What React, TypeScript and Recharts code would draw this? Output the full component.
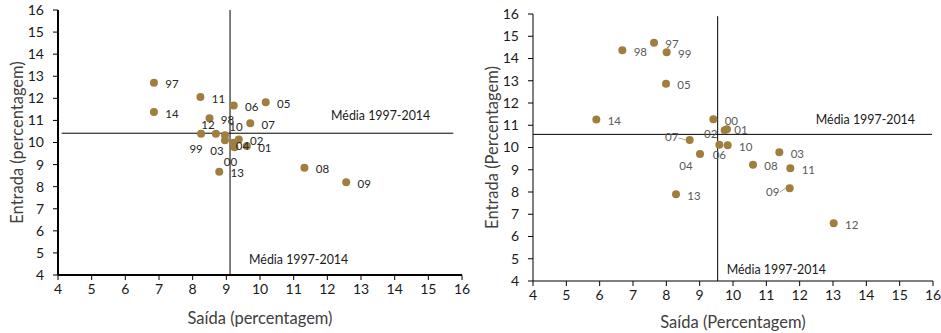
import React from 'react';
import { ScatterChart, Scatter, XAxis, YAxis, ReferenceLine } from 'recharts';

// anos 1997-2014
const YEARS = ['97', '98', '99', '00', '01', '02', '03', '04', '05', '06', '07', '08', '09', '10', '11', '12', '13', '14'];

// painel esquerdo
const SAIDA_A = [6.85, 8.5, 8.25, 9.24, 9.61, 9.37, 8.96, 9.21, 10.17, 9.22, 9.71, 11.32, 12.56, 8.96, 8.23, 8.69, 8.79, 6.85];
const ENTRADA_A = [12.71, 11.1, 10.4, 9.78, 9.84, 10.14, 10.1, 9.99, 11.82, 11.67, 10.87, 8.86, 8.2, 10.33, 12.06, 10.4, 8.68, 11.38];
const MEDIA_SAIDA_A = 9.11;
const MEDIA_ENTRADA_A = 10.42;

// painel direito
const SAIDA_B = [7.63, 6.68, 8.01, 9.41, 9.82, 9.75, 11.39, 9.01, 7.99, 9.59, 8.7, 10.6, 11.7, 9.84, 11.72, 13.02, 8.29, 5.9];
const ENTRADA_B = [14.71, 14.37, 14.28, 11.27, 10.82, 10.78, 9.79, 9.71, 12.86, 10.12, 10.34, 9.22, 8.17, 10.1, 9.07, 6.59, 7.9, 11.26];
const MEDIA_SAIDA_B = 9.54;
const MEDIA_ENTRADA_B = 10.59;

const TICKS = [4, 5, 6, 7, 8, 9, 10, 11, 12, 13, 14, 15, 16];
const MEDIA_TEXT = 'Média 1997-2014';

const DOT = '#A07E3D';
const FONT = 'Lato, "Open Sans", sans-serif';

// labels moved by hand in the original (offset of label centre from the dot)
const SHIFT_A: Record<string, [number, number]> = {
  '12': [-8, -9],
  '10': [11, -9],
  '99': [-5, 15],
  '03': [-8, 10],
  '00': [-4, 14],
  '04': [9, 3],
};
const SHIFT_B: Record<string, [number, number]> = {
  '02': [-14, 3],
  '07': [-18, -3],
  '06': [0, 10],
  '04': [-14, 12],
  '09': [-17, 3],
  '01': [14, 0],
};
const LEADERS_B = ['07', '09'];

const build = (xs: number[], ys: number[]) =>
  YEARS.map((year, i) => ({ year, saida: xs[i], entrada: ys[i] }));

interface PanelProps {
  width: number;
  margin: { top: number; right: number; bottom: number; left: number };
  yAxisWidth: number;
  xs: number[];
  ys: number[];
  mediaX: number;
  mediaY: number;
  hLineFrom: number;
  hLineTo: number;
  vLineTop: number;
  xTitle: string;
  yTitle: string;
  yTitleX: number;
  xTitleDy: number;
  axisWidth: number;
  labelColor: string;
  shifts: Record<string, [number, number]>;
  leaders: string[];
  hText: { gap: number; rise: number };
  vText: { gap: number; lift: number };
}

const Panel = (p: PanelProps) => {
  const data = build(p.xs, p.ys);

  const renderDot = (props: any) => {
    const { cx, cy, payload } = props;
    const s = p.shifts[payload.year] || [18, 1];
    return (
      <g>
        <circle cx={cx} cy={cy} r={4} fill={DOT} />
        {p.leaders.includes(payload.year) && (
          <line x1={cx + s[0] + 7} y1={cy + s[1] + 1} x2={cx - 4} y2={cy} stroke="#8c8c8c" strokeWidth={0.8} />
        )}
        <text
          x={cx + s[0]}
          y={cy + s[1]}
          textAnchor="middle"
          dominantBaseline="central"
          fontSize={11.5}
          fill={p.labelColor}
        >
          {payload.year}
        </text>
      </g>
    );
  };

  const hLabel = (props: any) => {
    const vb = props.viewBox;
    return (
      <text x={vb.x + vb.width - p.hText.gap} y={vb.y - p.hText.rise} textAnchor="end" dominantBaseline="central" fontSize={12.4} fill="#1a1a1a">
        {MEDIA_TEXT}
      </text>
    );
  };

  const vLabel = (props: any) => {
    const vb = props.viewBox;
    return (
      <text x={vb.x + p.vText.gap} y={vb.y + vb.height - p.vText.lift} textAnchor="start" dominantBaseline="central" fontSize={12.4} fill="#1a1a1a">
        {MEDIA_TEXT}
      </text>
    );
  };

  const yLabel = (props: any) => {
    const vb = props.viewBox;
    const cy = vb.y + vb.height / 2;
    return (
      <text x={p.yTitleX} y={cy} transform={`rotate(-90, ${p.yTitleX}, ${cy})`} textAnchor="middle" dominantBaseline="central" fontSize={16.5} fill="#404040">
        {p.yTitle}
      </text>
    );
  };

  const xLabel = (props: any) => {
    const vb = props.viewBox;
    return (
      <text x={vb.x + vb.width / 2} y={vb.y + p.xTitleDy} textAnchor="middle" dominantBaseline="central" fontSize={16.5} fill="#404040">
        {p.xTitle}
      </text>
    );
  };

  return (
    <ScatterChart width={p.width} height={333} margin={p.margin} style={{ fontFamily: FONT }}>
      <XAxis
        type="number"
        dataKey="saida"
        domain={[4, 16]}
        ticks={TICKS}
        interval={0}
        tickSize={5}
        tickMargin={4}
        height={40}
        tick={{ fontSize: 14, fill: '#1a1a1a' }}
        axisLine={{ stroke: '#000', strokeWidth: p.axisWidth }}
        tickLine={{ stroke: '#000' }}
        label={xLabel}
      />
      <YAxis
        type="number"
        dataKey="entrada"
        domain={[4, 16]}
        ticks={TICKS}
        interval={0}
        tickSize={5}
        tickMargin={9}
        width={p.yAxisWidth}
        tick={{ fontSize: 14, fill: '#1a1a1a' }}
        axisLine={{ stroke: '#000', strokeWidth: p.axisWidth }}
        tickLine={{ stroke: '#000' }}
        label={yLabel}
      />
      <ReferenceLine
        segment={[{ x: p.hLineFrom, y: p.mediaY }, { x: p.hLineTo, y: p.mediaY }]}
        stroke="#000"
        strokeWidth={1}
        label={hLabel}
      />
      <ReferenceLine
        segment={[{ x: p.mediaX, y: 4 }, { x: p.mediaX, y: p.vLineTop }]}
        stroke="#000"
        strokeWidth={1}
        label={vLabel}
      />
      <Scatter data={data} shape={renderDot} isAnimationActive={false} />
    </ScatterChart>
  );
};

export default function App() {
  return (
    <div style={{ position: 'absolute', left: 0, top: 0, width: 941, height: 333, display: 'flex', background: '#fff', fontFamily: FONT }}>
      <Panel
        width={470}
        margin={{ top: 10, right: 8, bottom: 18, left: 18 }}
        yAxisWidth={40}
        xs={SAIDA_A}
        ys={ENTRADA_A}
        mediaX={MEDIA_SAIDA_A}
        mediaY={MEDIA_ENTRADA_A}
        hLineFrom={4.11}
        hLineTo={15.74}
        vLineTop={16}
        xTitle="Saída (percentagem)"
        yTitle="Entrada (percentagem)"
        yTitleX={17}
        xTitleDy={43}
        axisWidth={2}
        labelColor="#262626"
        shifts={SHIFT_A}
        leaders={[]}
        hText={{ gap: 23, rise: 18 }}
        vText={{ gap: 19, lift: 16 }}
      />
      <Panel
        width={471}
        margin={{ top: 14, right: 8, bottom: 12, left: 22 }}
        yAxisWidth={41}
        xs={SAIDA_B}
        ys={ENTRADA_B}
        mediaX={MEDIA_SAIDA_B}
        mediaY={MEDIA_ENTRADA_B}
        hLineFrom={4}
        hLineTo={15.97}
        vLineTop={15.9}
        xTitle="Saída (Percentagem)"
        yTitle="Entrada (Percentagem)"
        yTitleX={22}
        xTitleDy={41}
        axisWidth={1}
        labelColor="#595959"
        shifts={SHIFT_B}
        leaders={LEADERS_B}
        hText={{ gap: 17, rise: 15 }}
        vText={{ gap: 9, lift: 12 }}
      />
    </div>
  );
}
